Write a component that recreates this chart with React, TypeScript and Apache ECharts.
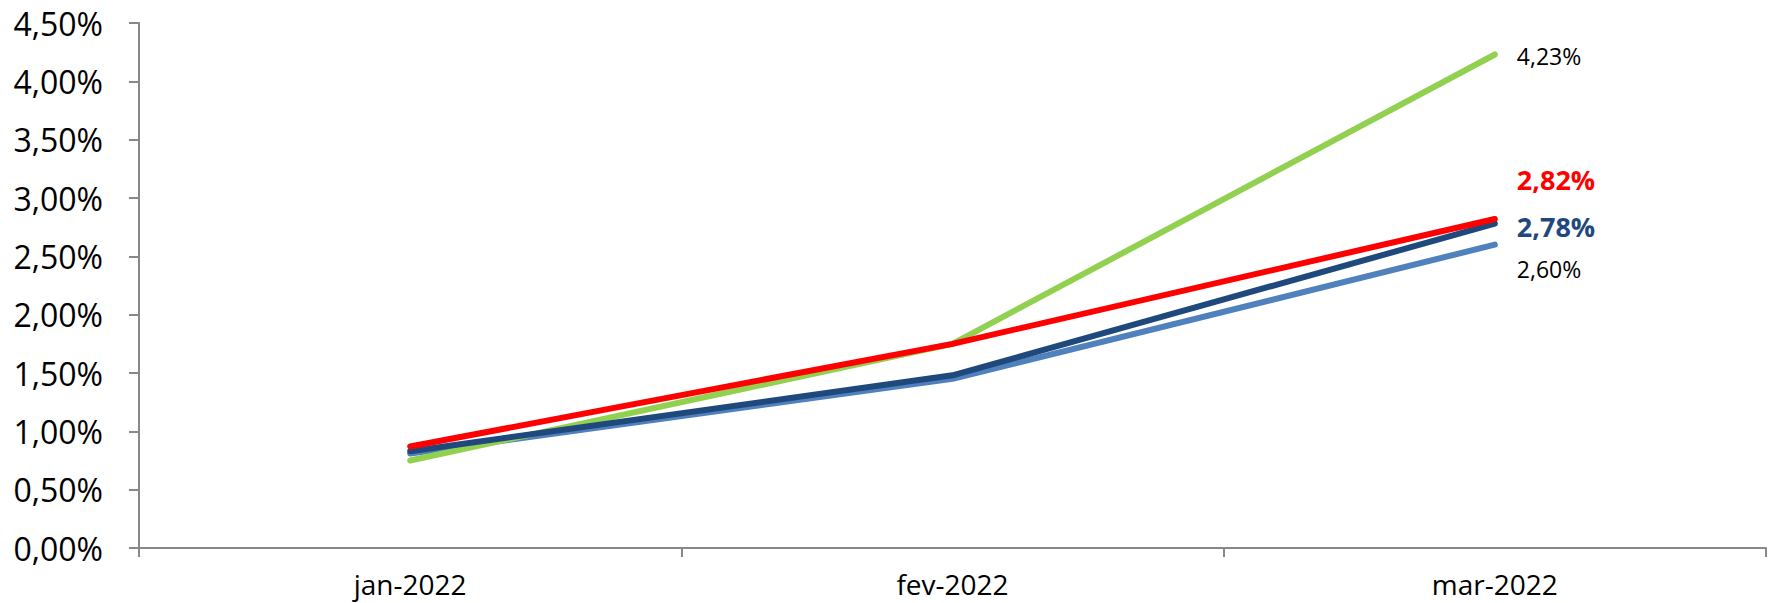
import React, { useEffect, useRef } from "react";
import * as echarts from "echarts";

const categories = ["jan-2022", "fev-2022", "mar-2022"];
const yTicks = { min: 0, max: 4.5, interval: 0.5 };

const lightBlueValues = [0.81, 1.45, 2.6];
const greenValues = [0.75, 1.75, 4.23];
const darkBlueValues = [0.83, 1.48, 2.78];
const redValues = [0.87, 1.75, 2.82];

const fmt = (v: number) => v.toFixed(2).replace(".", ",") + "%";
const FONT = "'Open Sans', sans-serif";

export default function App() {
  const ref = useRef<HTMLDivElement>(null);
  useEffect(() => {
    document.body.style.margin = "0";
    const chart = echarts.init(ref.current!, null, { renderer: "svg" });
    const mk = (
      name: string,
      data: number[],
      color: string,
      labelColor: string,
      bold: boolean,
      size: number,
      dy: number,
      z: number
    ) => ({
      name,
      type: "line",
      data,
      z,
      showSymbol: false,
      symbol: "none",
      lineStyle: { color, width: 6, cap: "round", join: "round" },
      itemStyle: { color },
      endLabel: {
        show: true,
        formatter: (p: any) => fmt(p.value),
        color: labelColor,
        fontFamily: FONT,
        fontSize: size,
        fontWeight: bold ? "bold" : "normal",
        distance: 5,
        offset: [17, dy],
      },
    });
    chart.setOption({
      animation: false,
      grid: { left: 139, right: 5, top: 23, bottom: 55, containLabel: false },
      xAxis: {
        type: "category",
        data: categories,
        boundaryGap: true,
        axisLine: { lineStyle: { color: "#888888", width: 2 } },
        axisTick: { show: true, length: 9, lineStyle: { color: "#888888", width: 2 } },
        axisLabel: { color: "#000", fontFamily: FONT, fontSize: 28, margin: 22 },
      },
      yAxis: {
        type: "value",
        min: yTicks.min,
        max: yTicks.max,
        interval: yTicks.interval,
        splitLine: { show: false },
        axisLine: { show: true, lineStyle: { color: "#888888", width: 2 } },
        axisTick: { show: true, length: 10, lineStyle: { color: "#888888", width: 2 } },
        axisLabel: {
          color: "#000",
          fontFamily: FONT,
          fontSize: 32,
          margin: 36,
          formatter: (v: number) => fmt(v),
        },
      },
      series: [
        mk("Série 1", lightBlueValues, "#4F81BD", "#000000", false, 23, 24, 1),
        mk("Série 2", greenValues, "#92D050", "#000000", false, 23, 1, 2),
        mk("Série 3", darkBlueValues, "#1F497D", "#1F497D", true, 27, 3, 3),
        mk("Série 4", redValues, "#FF0000", "#FF0000", true, 27, -40, 4),
      ],
    });
    return () => chart.dispose();
  }, []);
  return <div ref={ref} style={{ width: 1771, height: 603 }} />;
}
